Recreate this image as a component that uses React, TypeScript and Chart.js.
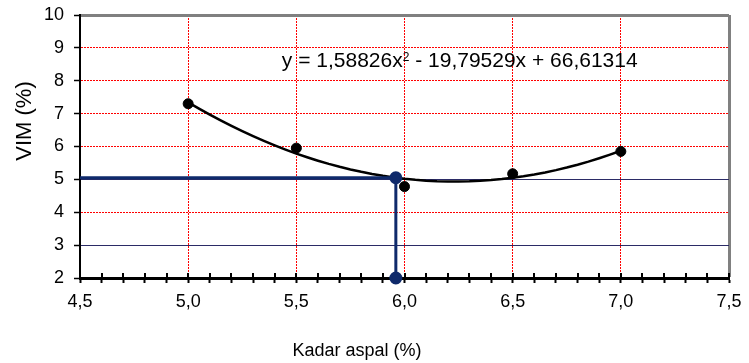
import React, { useEffect, useRef } from 'react';
import { Chart, registerables } from 'chart.js';

Chart.register(...registerables);

const FONT = '"Liberation Sans", Arial, sans-serif';

// Measured data
const kadarAspal = [5.0, 5.5, 6.0, 6.5, 7.0];
const vim = [7.3, 5.95, 4.78, 5.17, 5.85];

// Polynomial trendline printed on the chart: y = a x^2 + b x + c
const trendCoef = [1.58826, -19.79529, 66.61314];
const trendFrom = 5.0;
const trendTo = 7.0;
const trendStep = 0.05;

// Optimum reading (guide lines)
const optimumX = [4.5, 5.96, 5.96];
const optimumY = [5.05, 5.05, 2];

// Axis settings
const xMin = 4.5, xMax = 7.5, xStep = 0.1;
const yMin = 2, yMax = 10, yStep = 1;
const yDarkLines = [3, 5];

const equationText = ['y = 1,58826x', '2', ' - 19,79529x + 66,61314'];
const xTitle = 'Kadar aspal (%)';
const yTitle = 'VIM (%)';

const near = (a: number, b: number) => Math.abs(a - b) < 1e-6;
const isMajorX = (v: number) => near(v * 2, Math.round(v * 2));

function trendPoints() {
  const pts: { x: number; y: number }[] = [];
  const n = Math.round((trendTo - trendFrom) / trendStep);
  for (let i = 0; i <= n; i++) {
    const x = trendFrom + i * trendStep;
    pts.push({ x, y: trendCoef[0] * x * x + trendCoef[1] * x + trendCoef[2] });
  }
  return pts;
}

const extrasPlugin = {
  id: 'extras',
  afterDraw(chart: any) {
    const { ctx, chartArea } = chart;
    const xs = chart.scales.x;
    ctx.save();
    // inner half of x-axis ticks
    ctx.strokeStyle = '#000';
    ctx.lineWidth = 2;
    xs.ticks.forEach((t: any) => {
      const px = Math.round(xs.getPixelForValue(t.value));
      ctx.beginPath();
      ctx.moveTo(px, chartArea.bottom - 5);
      ctx.lineTo(px, chartArea.bottom);
      ctx.stroke();
    });
    // equation
    ctx.fillStyle = '#000';
    ctx.textBaseline = 'alphabetic';
    ctx.textAlign = 'left';
    let x = chartArea.left + 0.311 * (chartArea.right - chartArea.left);
    const y = chartArea.top + 52;
    ctx.font = `21px ${FONT}`;
    ctx.fillText(equationText[0], x, y);
    x += ctx.measureText(equationText[0]).width;
    ctx.font = `12px ${FONT}`;
    ctx.fillText(equationText[1], x, y - 6.5);
    x += ctx.measureText(equationText[1]).width;
    ctx.font = `21px ${FONT}`;
    ctx.fillText(equationText[2], x, y);
    // x axis title
    ctx.font = `18px ${FONT}`;
    ctx.textAlign = 'center';
    ctx.fillText(xTitle, 357, 356);
    // y axis title
    ctx.translate(25, 121);
    ctx.rotate(-Math.PI / 2);
    ctx.font = `22px ${FONT}`;
    ctx.textBaseline = 'middle';
    ctx.fillText(yTitle, 0, 0);
    ctx.restore();
  },
};

export default function App() {
  const ref = useRef<HTMLCanvasElement | null>(null);
  useEffect(() => {
    document.body.style.margin = '0';
    if (!ref.current) return;
    const guide = optimumX.map((x, i) => ({ x, y: optimumY[i] }));
    const chart = new Chart(ref.current, {
      type: 'scatter',
      data: {
        datasets: [
          {
            data: guide,
            showLine: true,
            borderColor: '#0f2a6b',
            backgroundColor: '#0f2a6b',
            borderWidth: 3,
            pointRadius: [0, 5, 5],
            pointHoverRadius: 0,
            clip: false,
          } as any,
          {
            data: kadarAspal.map((x, i) => ({ x, y: vim[i] })),
            borderColor: '#000',
            backgroundColor: '#000',
            pointRadius: 5,
            showLine: false,
          },
          {
            data: trendPoints(),
            showLine: true,
            borderColor: '#000',
            borderWidth: 2.5,
            pointRadius: 0,
            tension: 0,
          },
        ],
      },
      options: {
        animation: false,
        responsive: false,
        events: [],
        layout: { padding: { left: 0, top: 15, right: 20, bottom: 0 } },
        plugins: { legend: { display: false }, tooltip: { enabled: false } },
        scales: {
          x: {
            type: 'linear',
            min: xMin,
            max: xMax,
            afterFit: (s: any) => {
              s.height = 85;
              s.paddingLeft = 0;
              s.paddingRight = 0;
            },
            ticks: {
              stepSize: xStep,
              autoSkip: false,
              maxRotation: 0,
              color: '#000',
              font: { family: FONT, size: 18 },
              padding: 8,
              callback: (v: any) => (isMajorX(Number(v)) ? Number(v).toFixed(1).replace('.', ',') : ''),
            },
            grid: {
              color: (c: any) => {
                const v = c.tick ? c.tick.value : NaN;
                if (near(v, xMax)) return '#808080';
                if (near(v, xMin)) return 'rgba(0,0,0,0)';
                return isMajorX(v) ? '#ff0000' : 'rgba(0,0,0,0)';
              },
              lineWidth: (c: any) => (c.tick && near(c.tick.value, xMax) ? 3 : 1),
              tickColor: '#000',
              tickWidth: 2,
              tickLength: 5,
              tickBorderDash: [],
            },
            border: {
              color: '#000',
              width: 3,
              dash: (c: any) => (c.tick && !near(c.tick.value, xMax) ? [2, 1] : []),
            },
            title: { display: false },
          },
          y: {
            type: 'linear',
            min: yMin,
            max: yMax,
            afterFit: (s: any) => {
              s.width = 80;
              s.paddingTop = 0;
              s.paddingBottom = 0;
            },
            ticks: {
              stepSize: yStep,
              color: '#000',
              font: { family: FONT, size: 18 },
              padding: 10,
            },
            grid: {
              color: (c: any) => {
                const v = c.tick ? c.tick.value : NaN;
                if (near(v, yMax)) return '#808080';
                if (near(v, yMin)) return 'rgba(0,0,0,0)';
                if (yDarkLines.some((d) => near(d, v))) return '#2b2b66';
                return '#ff0000';
              },
              lineWidth: (c: any) => (c.tick && near(c.tick.value, yMax) ? 3 : 1),
              tickColor: '#000',
              tickWidth: 1.5,
              tickLength: 6,
              tickBorderDash: [],
            },
            border: {
              color: '#000',
              width: 2,
              dash: (c: any) => {
                const v = c.tick ? c.tick.value : NaN;
                if (!c.tick || near(v, yMax) || yDarkLines.some((d) => near(d, v))) return [];
                return [2, 1];
              },
            },
            title: { display: false },
          },
        },
      },
      plugins: [extrasPlugin],
    } as any);
    return () => chart.destroy();
  }, []);
  return (
    <div style={{ width: 749, height: 363 }}>
      <canvas ref={ref} width={749} height={363} />
    </div>
  );
}
